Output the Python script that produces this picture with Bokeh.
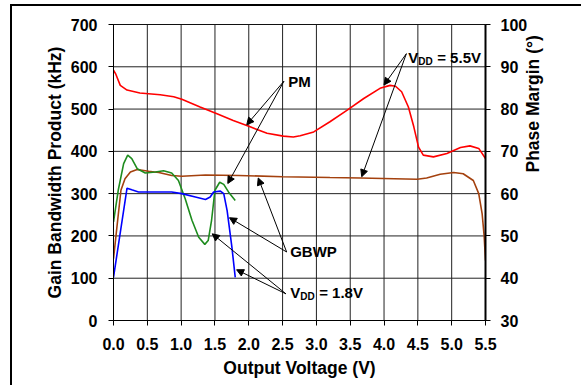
import math
from bokeh.plotting import figure
from bokeh.models import (Range1d, LinearAxis, FixedTicker, NumeralTickFormatter,
                          Arrow, NormalHead, Label, Span)
from bokeh.embed import file_html
from bokeh.resources import INLINE

# ---------------- data ----------------
x_ticks = [0.0, 0.5, 1.0, 1.5, 2.0, 2.5, 3.0, 3.5, 4.0, 4.5, 5.0, 5.5]
gbwp_ticks = [0, 100, 200, 300, 400, 500, 600, 700]
pm_ticks = [30, 40, 50, 60, 70, 80, 90, 100]

# Phase margin, VDD = 5.5V (deg)
x_pm55 = [0.0, 0.03, 0.1, 0.2, 0.39, 0.69, 0.89, 1.01, 1.28, 1.53, 1.77, 2.02, 2.27,
          2.51, 2.66, 2.76, 2.96, 3.2, 3.45, 3.7, 3.94, 4.09, 4.17, 4.26, 4.36, 4.44,
          4.51, 4.58, 4.73, 4.93, 5.13, 5.27, 5.40, 5.5]
pm55 = [89.2, 88.4, 85.6, 84.5, 83.8, 83.4, 82.9, 82.3, 80.5, 78.9, 77.3, 75.8, 74.3,
        73.6, 73.4, 73.7, 74.6, 77.0, 79.7, 82.5, 84.9, 85.6, 85.4, 84.1, 80.5, 75.8,
        71.0, 69.1, 68.7, 69.5, 70.9, 71.3, 70.7, 68.3]

# GBWP, VDD = 5.5V (kHz)
x_gb55 = [0.0, 0.05, 0.11, 0.17, 0.25, 0.35, 0.52, 0.67, 0.86, 1.01, 1.36, 1.85, 2.5,
          3.2, 3.65, 4.49, 4.63, 4.83, 5.03, 5.17, 5.32, 5.40, 5.45, 5.48, 5.5]
gb55 = [146, 220, 308, 335, 351, 357, 353, 350, 343, 341, 344, 343, 340,
        338, 337, 334, 337, 346, 350, 347, 331, 300, 253, 200, 142]

# Phase margin, VDD = 1.8V (deg)
x_pm18 = [0.0, 0.07, 0.15, 0.21, 0.27, 0.35, 0.47, 0.62, 0.74, 0.86, 0.96, 1.06, 1.16,
          1.26, 1.35, 1.40, 1.45, 1.50, 1.57, 1.63, 1.70, 1.80]
pm18 = [53.3, 60.8, 67.1, 69.1, 68.3, 65.9, 64.9, 65.1, 65.4, 64.9, 63.1, 58.8, 53.7,
        49.7, 48.0, 48.9, 53.7, 60.8, 62.7, 62.2, 60.4, 58.4]

# GBWP, VDD = 1.8V (kHz)
x_gb18 = [0.0, 0.2, 0.27, 0.37, 0.62, 0.86, 1.01, 1.21, 1.36, 1.43, 1.48, 1.58, 1.63,
          1.68, 1.75, 1.80]
gb18 = [102, 313, 309, 304, 304, 304, 300, 292, 286, 292, 304, 306, 300, 260, 174, 102]

FONT = "Liberation Sans"

p = figure(width=581, height=385, x_range=Range1d(0, 5.5), y_range=Range1d(0, 700),
           output_backend="svg", toolbar_location=None,
           min_border_left=113, min_border_right=96, min_border_top=24, min_border_bottom=65)
p.background_fill_color = "white"
p.border_fill_color = None
p.outline_line_color = "black"
p.outline_line_width = 1
# outer black frame of the original figure (left and top edges show in the window)
p.styles = {
    "background": ("linear-gradient(#000, #000) 10px 4px / 2px 500px no-repeat, "
                   "linear-gradient(#000, #000) 10px 4px / 700px 2px no-repeat, #fff"),
}

p.extra_y_ranges = {"pm": Range1d(30, 100)}

# axes
p.xaxis.ticker = FixedTicker(ticks=x_ticks)
p.xaxis.formatter = NumeralTickFormatter(format="0.0")
p.yaxis.ticker = FixedTicker(ticks=gbwp_ticks)
p.xaxis.axis_label = "Output Voltage (V)"
p.yaxis.axis_label = "Gain Bandwidth Product (kHz)"

ra = LinearAxis(y_range_name="pm", ticker=FixedTicker(ticks=pm_ticks),
                axis_label="Phase Margin (°)")
p.add_layout(ra, "right")
try:
    ra.axis_label_orientation = math.pi / 2
except Exception:
    pass

for ax in [p.xaxis[0], p.yaxis[0], ra]:
    ax.major_label_text_font = FONT
    ax.major_label_text_font_style = "bold"
    ax.major_label_text_font_size = "16px"
    ax.major_label_text_color = "black"
    ax.axis_label_text_font = FONT
    ax.axis_label_text_font_style = "bold"
    ax.axis_label_text_font_size = "17.5px"
    ax.axis_label_text_color = "black"
    ax.major_tick_out = 5
    ax.major_tick_in = 0
    ax.minor_tick_out = 0
    ax.minor_tick_in = 0
    ax.axis_line_color = "black"
    ax.major_tick_line_color = "black"

p.xaxis.major_label_standoff = 12
p.xaxis.axis_label_standoff = 5
p.yaxis.major_label_standoff = 11
p.yaxis.axis_label_standoff = 3
ra.major_label_standoff = 10
ra.axis_label_standoff = 3
ra.axis_line_width = 2

# grid drawn as spans at the tick positions
p.grid.visible = False
for t in x_ticks:
    p.add_layout(Span(location=t, dimension="height", line_color="#222222",
                      line_width=1, level="underlay"))
for t in gbwp_ticks:
    p.add_layout(Span(location=t, dimension="width", line_color="#222222",
                      line_width=1, level="underlay"))

# curves
p.line(x_pm55, pm55, y_range_name="pm", line_color="#FF0000", line_width=1.6)
p.line(x_gb55, gb55, line_color="#A4410E", line_width=1.6)
p.line(x_pm18, pm18, y_range_name="pm", line_color="#1E8C1E", line_width=1.6)
p.line(x_gb18, gb18, line_color="#0000FF", line_width=1.6)

# annotation arrows (data coords, left axis units)
arrows = [
    (2.52, 566, 1.97, 463), (2.52, 566, 1.69, 324),      # PM
    (4.33, 631, 4.00, 557), (4.33, 631, 3.67, 340),      # VDD = 5.5V
    (2.56, 162, 2.14, 337), (2.56, 162, 1.715, 243),     # GBWP
    (2.55, 63, 1.46, 205), (2.55, 63, 1.82, 120),        # VDD = 1.8V
]
for xs, ys, xe, ye in arrows:
    p.add_layout(Arrow(x_start=xs, y_start=ys, x_end=xe, y_end=ye, line_color="black",
                       line_width=1,
                       end=NormalHead(size=7, fill_color="black", line_color="black",
                                      line_width=1)))

def lab(x, y, text, size="15px", xo=0, yo=0):
    p.add_layout(Label(x=x, y=y, text=text, x_offset=xo, y_offset=yo,
                       text_font=FONT, text_font_style="bold", text_font_size=size,
                       text_color="black", text_baseline="middle", text_align="left"))

lab(2.583, 566, "PM")
lab(2.612, 163, "GBWP")
lab(4.357, 622, "V")
lab(4.357, 622, "DD", size="10px", xo=10, yo=-4)
lab(4.357, 622, "= 5.5V", xo=29)
lab(2.612, 66, "V")
lab(2.612, 66, "DD", size="10px", xo=10, yo=-4)
lab(2.612, 66, "= 1.8V", xo=29)

open("out.html", "w").write(file_html(p, INLINE))
